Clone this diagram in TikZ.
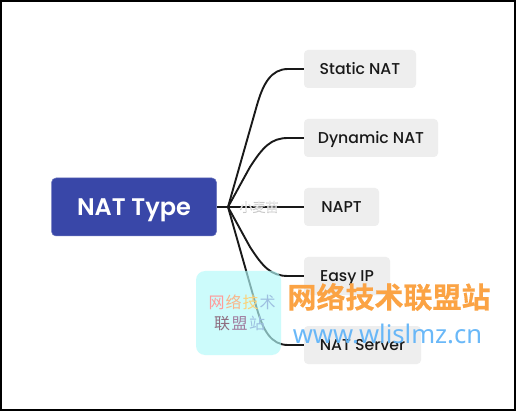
\documentclass[tikz,border=0pt]{standalone}
\usepackage{fontspec}
\setmainfont{Poppins Medium}
\newfontfamily\rootfont{Poppins SemiBold}
\newfontfamily\cjk{Noto Sans CJK SC}
\newfontfamily\cjkb{Noto Sans CJK SC Bold}[FakeBold=0.4]
\newfontfamily\cjkout{Noto Sans CJK SC}[FakeBold=1.2]
\newfontfamily\urlfont{Noto Sans}
\definecolor{mainblue}{HTML}{3947A8}
\definecolor{leafgray}{HTML}{EEEEEE}
\definecolor{wmcyan}{HTML}{B3FAFA}
\definecolor{wmorange}{HTML}{FBA344}
\definecolor{wmblue}{HTML}{62B5F8}
\definecolor{wa}{HTML}{FF9A9A}
\definecolor{wb}{HTML}{F9B58A}
\definecolor{wc}{HTML}{FBD27A}
\definecolor{wd}{HTML}{9DBFE0}
\definecolor{we}{HTML}{8E6E80}
\definecolor{wf}{HTML}{A07D9F}
\tikzset{
  rootbox/.style={draw=mainblue!75!white,line width=.5pt,fill=mainblue,rounded corners=4.5pt,minimum width=165pt,minimum height=58pt,inner sep=0pt,text=white,text height=22pt,text depth=4pt,font=\rootfont\fontsize{24}{28}\selectfont},
  leafbox/.style={fill=leafgray,rounded corners=4pt,minimum height=38pt,inner sep=0pt,text=black!90,text height=14pt,text depth=3pt,font=\fontsize{15.7}{18}\selectfont},
  link/.style={draw=black!90,line width=1.9pt,line join=round},
  marktext/.style={inner sep=0pt},
}
\begin{document}
\begin{tikzpicture}[x=1pt,y=-1pt]
\useasboundingbox (0,0) rectangle (516,411);
\fill[white] (0,0) rectangle (516,411);
\draw[black,line width=2.5pt] (1,1) rectangle (515,410);
\node[rootbox] (root) at (134,207) {NAT Type};
\node[leafbox,minimum width=112pt] (a) at (360,69) {Static NAT};
\node[leafbox,minimum width=134pt] (b) at (371,138) {Dynamic NAT};
\node[leafbox,minimum width=75pt] (c) at (341.5,207) {NAPT};
\node[leafbox,minimum width=86pt] (d) at (347,276) {Easy IP};
\node[leafbox,minimum width=117pt] (e) at (362.5,345) {NAT Server};
\coordinate (hub) at (228,207);
\draw[link] (root.east) -- (hub);
\draw[link] (hub) -- (257,105) .. controls (263,84) and (271,69) .. (288,69) -- (a.west);
\draw[link] (hub) -- (250,167) .. controls (263,147) and (271,138) .. (288,138) -- (b.west);
\draw[link] (hub) -- (c.west);
\draw[link] (hub) -- (250,247) .. controls (263,267) and (271,276) .. (288,276) -- (d.west);
\draw[link] (hub) -- (257,309) .. controls (263,330) and (271,345) .. (288,345) -- (e.west);
\node[marktext,text=black!25,opacity=.8,font=\cjkout\fontsize{13}{14}\selectfont] (mk) at (259,207) {小麦苗};
\node[marktext,text=white,opacity=.8,font=\cjk\fontsize{13}{14}\selectfont] (mkb) at (mk) {小麦苗};
\fill[wmcyan,opacity=.66,rounded corners=9pt] (196,271) rectangle (281,355);
\node[marktext,font=\cjk\fontsize{16}{18}\selectfont] (w1) at (242,302) {\textcolor{wa}{网}\kern1pt\textcolor{wb}{络}\kern1pt\textcolor{wc}{技}\kern1pt\textcolor{wd}{术}};
\node[marktext,font=\cjk\fontsize{16}{18}\selectfont] (w2) at (239.5,323) {\textcolor{we}{联}\kern1.5pt\textcolor{wf}{盟}\kern1.5pt\textcolor{wd}{站}};
\node[marktext,text=wmorange,font=\cjkb\fontsize{29}{32}\selectfont] (cn) at (389,297) {网络技术联盟站};
\node[marktext,text=wmblue,opacity=.95,font=\urlfont\fontsize{25.6}{28}\selectfont] (url) at (387.5,334) {www.wlislmz.cn};
\end{tikzpicture}
\end{document}
